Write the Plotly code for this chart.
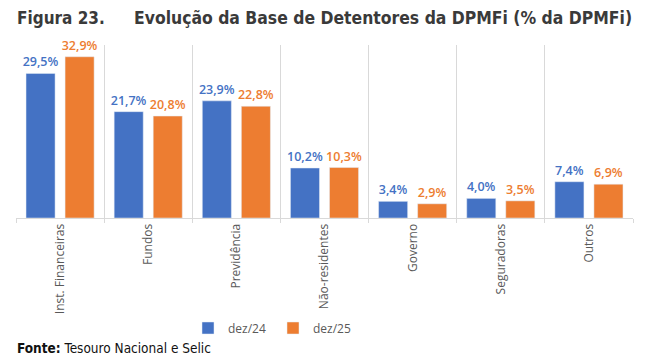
import plotly.graph_objects as go

categories = ["Inst. Financeiras", "Fundos", "Previdência", "Não-residentes", "Governo", "Seguradoras", "Outros"]
dez24 = [29.5, 21.7, 23.9, 10.2, 3.4, 4.0, 7.4]
dez25 = [32.9, 20.8, 22.8, 10.3, 2.9, 3.5, 6.9]
series_names = ["dez/24", "dez/25"]
colors = ["#4472C4", "#ED7D31"]

def fmt(v):
    return f"{v:.1f}%".replace(".", ",")

W, H = 649, 362
L, R, T, B = 16, 16, 45, 144

fig = go.Figure()
for name, vals, c in zip(series_names, [dez24, dez25], colors):
    fig.add_trace(go.Bar(
        x=categories, y=vals, name=name, marker_color=c,
        text=[fmt(v) for v in vals], textposition="outside", cliponaxis=False,
        constraintext="none",
        textfont=dict(family="Open Sans", size=12.5, color=c, weight=600),
    ))

def px_x(px):
    return (px - L) / (W - L - R)

def px_y(py):
    return (H - B - py) / (H - B - T)

fig.update_layout(
    width=W, height=H,
    margin=dict(l=L, r=R, t=T, b=B, autoexpand=False),
    paper_bgcolor="white", plot_bgcolor="white",
    barmode="group", bargap=0.114, bargroupgap=0.256,
    showlegend=True,
    legend=dict(orientation="h", xref="container", yref="container",
                x=273 / W, xanchor="center", y=1 - 328 / H, yanchor="middle",
                font=dict(family="Open Sans", size=12, color="#595959"),
                itemwidth=30, entrywidth=40, entrywidthmode="pixels", tracegroupgap=0),
    xaxis=dict(tickson="boundaries", showgrid=True, gridcolor="#D9D9D9", gridwidth=1,
               showline=True, linecolor="#D9D9D9", ticks="outside", ticklen=4, tickcolor="#D9D9D9",
               tickangle=-90, tickfont=dict(family="Open Sans", size=12, color="#595959"),
               range=[-0.5, 6.5], automargin=False),
    yaxis=dict(range=[0, 35.3], showgrid=False, showticklabels=False, zeroline=False,
               showline=False, automargin=False),
    annotations=[
        dict(text="<b>Figura 23.</b>", xref="paper", yref="paper", x=px_x(15), y=px_y(18),
             xanchor="left", yanchor="middle", showarrow=False,
             font=dict(family="DejaVu Sans Condensed", size=17, color="#3a3a3a")),
        dict(text="<b>Evolução da Base de Detentores da DPMFi (% da DPMFi)</b>", xref="paper", yref="paper",
             x=px_x(634), y=px_y(18), xanchor="right", yanchor="middle", showarrow=False,
             font=dict(family="DejaVu Sans Condensed", size=17.4, color="#3a3a3a")),
        dict(text="<b>Fonte:</b> Tesouro Nacional e Selic", xref="paper", yref="paper",
             x=px_x(15), y=px_y(348), xanchor="left", yanchor="middle", showarrow=False,
             font=dict(family="DejaVu Sans Condensed", size=13.5, color="#111111")),
    ],
)

fig.write_html("out.html", config={"displayModeBar": False},
               post_script="document.body.style.margin='0';")
